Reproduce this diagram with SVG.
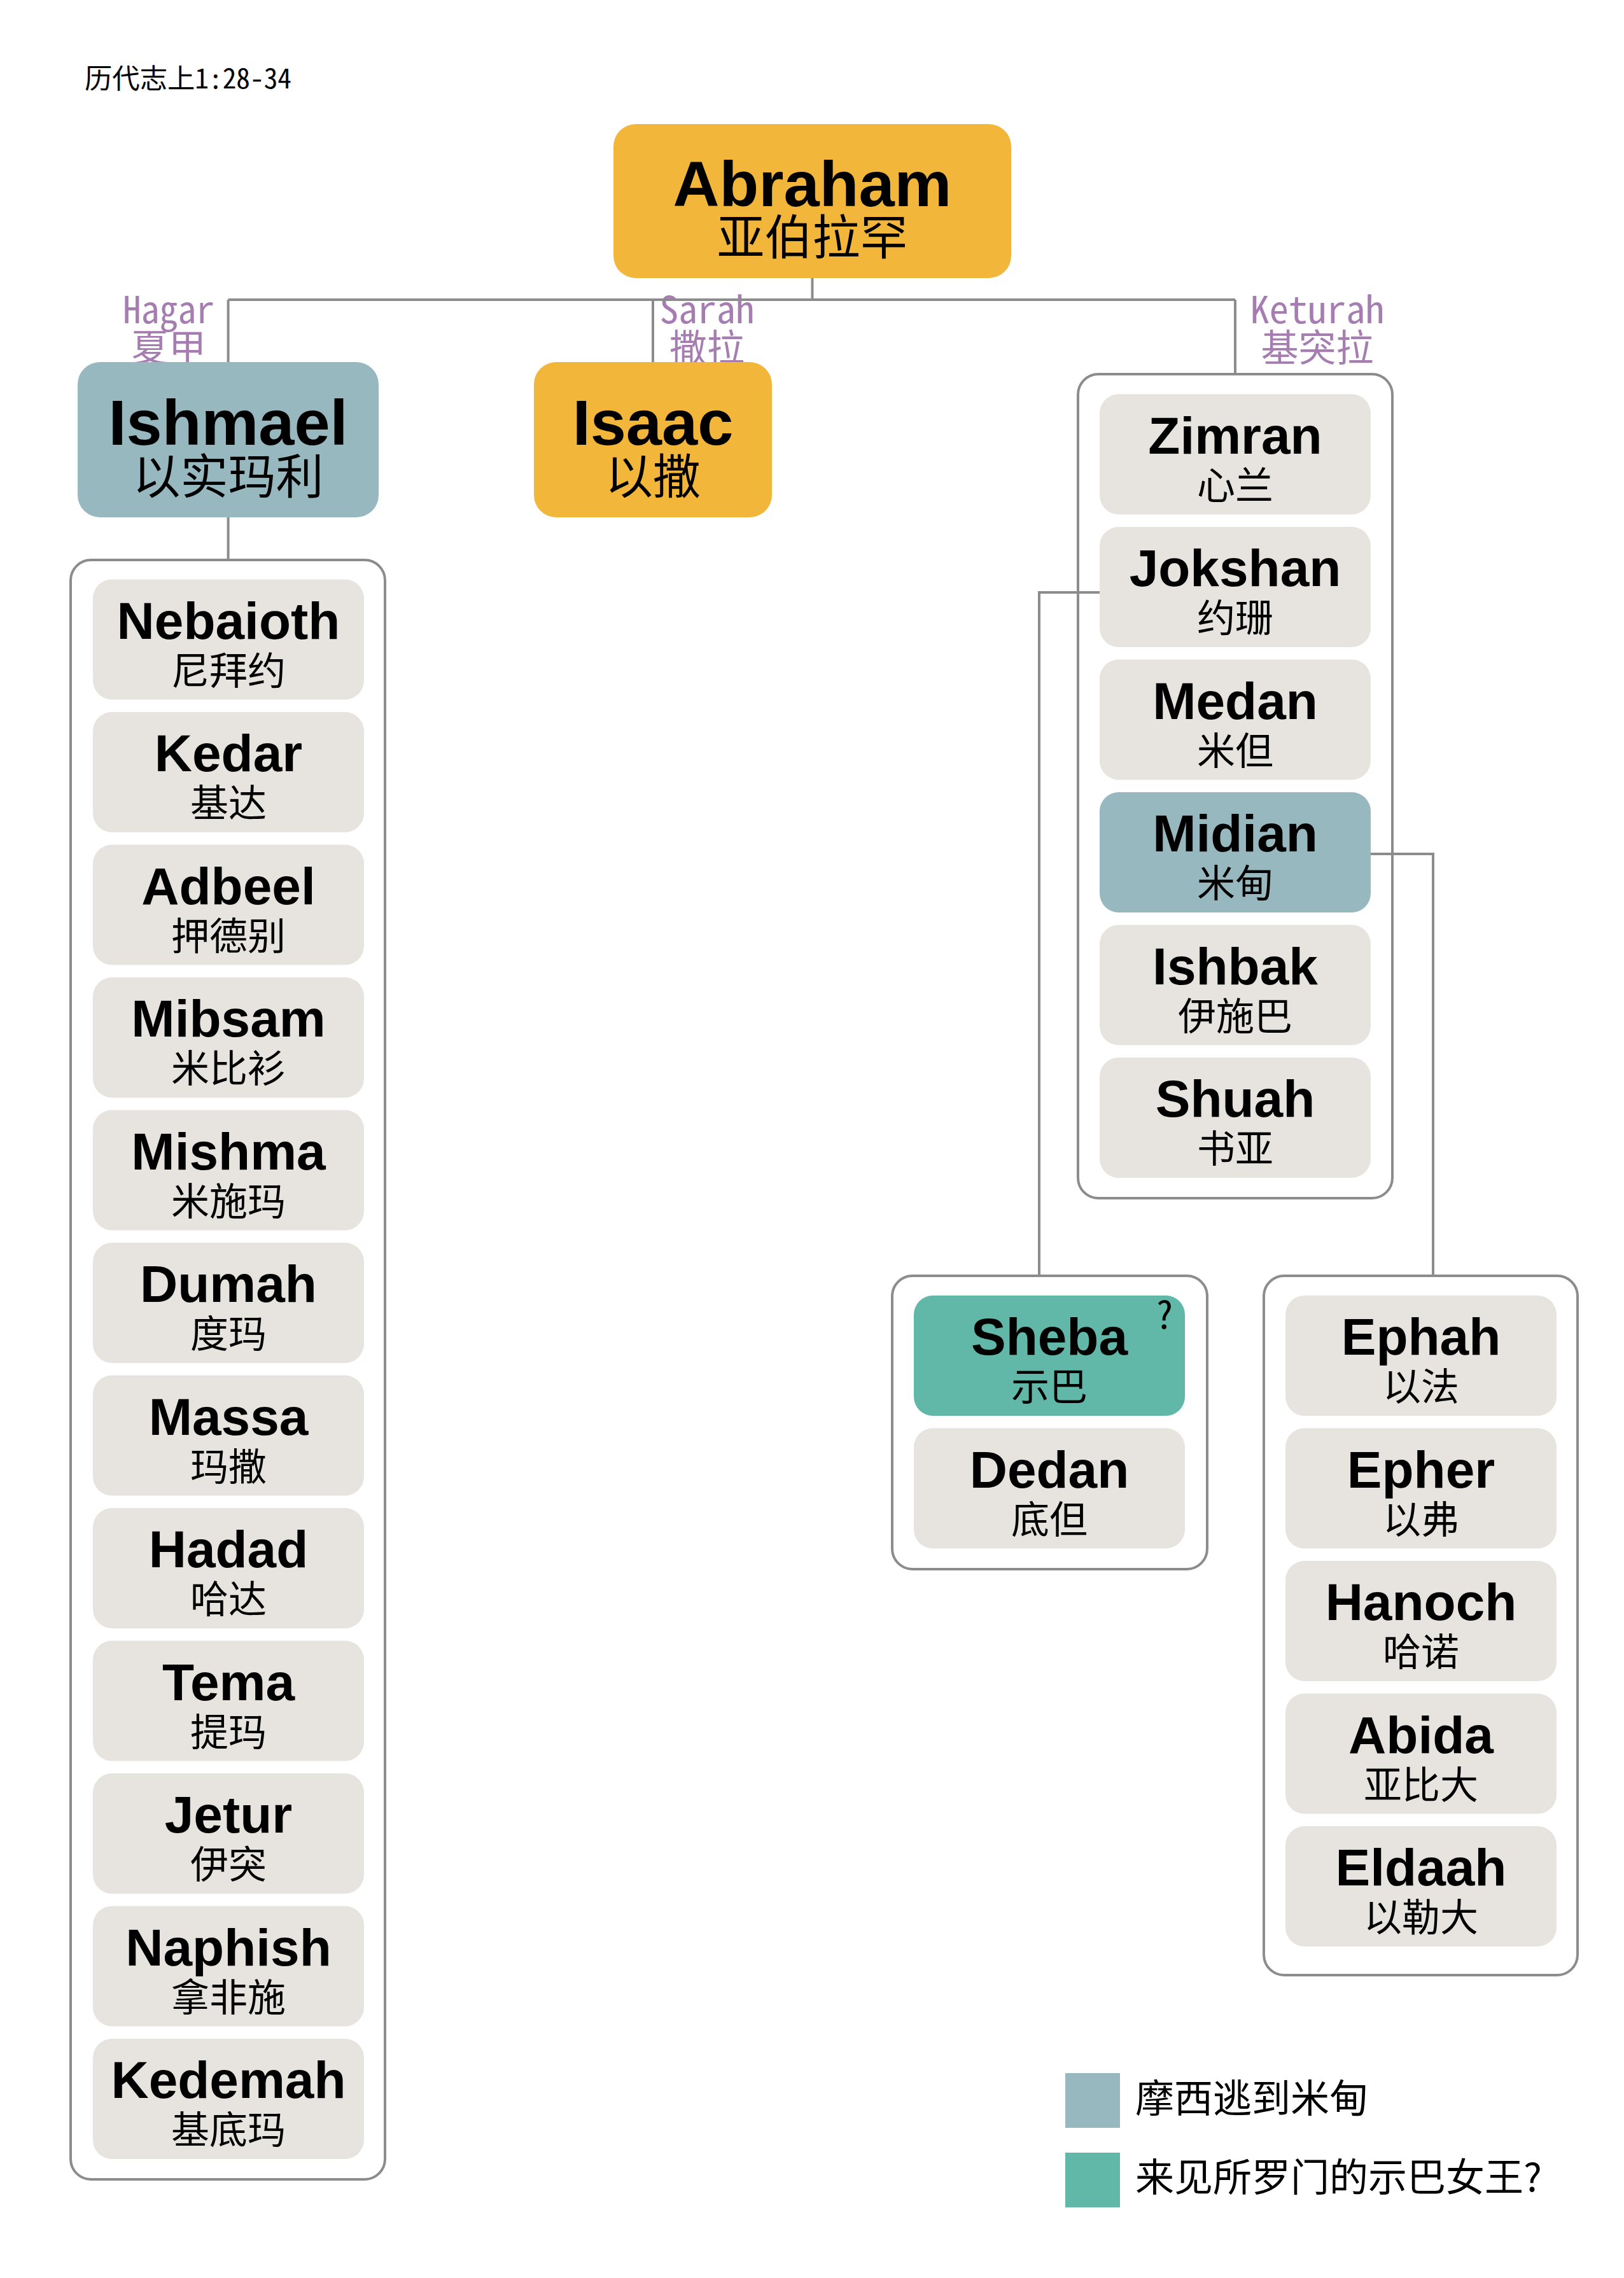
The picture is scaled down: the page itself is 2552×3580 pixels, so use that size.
<svg xmlns="http://www.w3.org/2000/svg" width="2552" height="3580" viewBox="0 0 2552 3580">
<style>
.bg{fill:#ffffff}
.grp{fill:#ffffff;stroke:#8c8c8c;stroke-width:4}
.kid{fill:#e7e4df}
.blue{fill:#98b8c0}
.teal{fill:#61b8a9}
.gold{fill:#f2b73a}
.en{font-family:"Liberation Sans",Arial,sans-serif;font-weight:bold;font-size:82px;fill:#000;text-anchor:middle}
.zh{font-family:"Noto Sans CJK SC",sans-serif;font-size:60px;fill:#000;text-anchor:middle}
.ben{font-family:"Liberation Sans",Arial,sans-serif;font-weight:bold;font-size:101px;fill:#000;text-anchor:middle}
.bzh{font-family:"Noto Sans CJK SC",sans-serif;font-size:75px;fill:#000;text-anchor:middle}
.sp{font-family:"Noto Sans Mono CJK SC","Noto Sans CJK SC",monospace;font-size:59px;fill:#a67db0;text-anchor:middle}
.mono{font-family:"Noto Sans Mono CJK SC","Noto Sans CJK SC",monospace;fill:#000}
.leg{font-family:"Noto Sans CJK SC",sans-serif;font-size:61px;fill:#000}
.ln{fill:none;stroke:#8c8c8c;stroke-width:4}
</style>
<rect class="bg" x="0" y="0" width="2552" height="3580"/>
<text id="title" class="mono" x="133" y="139" font-size="43" textLength="325" lengthAdjust="spacingAndGlyphs">历代志上1:28-34</text>

<g id="spouse-labels">
<text class="sp" x="265" y="508" textLength="144" lengthAdjust="spacingAndGlyphs">Hagar</text>
<text class="sp" x="265" y="568">夏甲</text>
<text class="sp" x="1111" y="508" textLength="149" lengthAdjust="spacingAndGlyphs">Sarah</text>
<text class="sp" x="1111" y="568">撒拉</text>
<text class="sp" x="2070" y="508" textLength="211" lengthAdjust="spacingAndGlyphs">Keturah</text>
<text class="sp" x="2070" y="568">基突拉</text>
</g>

<g id="abraham">
<rect class="gold" x="964" y="195" width="625" height="242" rx="35"/>
<text class="ben" x="1276.5" y="324">Abraham</text>
<text class="bzh" x="1276.5" y="400" font-size="76">亚伯拉罕</text>
</g>
<g id="ishmael">
<rect class="blue" x="122" y="569" width="473" height="244" rx="35"/>
<text class="ben" x="358.6" y="699" font-size="100">Ishmael</text>
<text class="bzh" x="358.6" y="776">以实玛利</text>
</g>
<g id="isaac">
<rect class="gold" x="839" y="569" width="374" height="244" rx="35"/>
<text class="ben" x="1026" y="699" font-size="100">Isaac</text>
<text class="bzh" x="1026" y="776">以撒</text>
</g>

<g id="ishmael-sons">
<rect class="grp" x="111" y="880" width="494" height="2545" rx="32"/>
<g id="nebaioth" transform="translate(146,910.5)"><rect class="kid" width="426" height="189" rx="30"/><text class="en" x="213" y="93">Nebaioth</text><text class="zh" x="213" y="165">尼拜约</text></g>
<g id="kedar" transform="translate(146,1119)"><rect class="kid" width="426" height="189" rx="30"/><text class="en" x="213" y="93">Kedar</text><text class="zh" x="213" y="165">基达</text></g>
<g id="adbeel" transform="translate(146,1327.5)"><rect class="kid" width="426" height="189" rx="30"/><text class="en" x="213" y="93">Adbeel</text><text class="zh" x="213" y="165">押德别</text></g>
<g id="mibsam" transform="translate(146,1536)"><rect class="kid" width="426" height="189" rx="30"/><text class="en" x="213" y="93">Mibsam</text><text class="zh" x="213" y="165">米比衫</text></g>
<g id="mishma" transform="translate(146,1744.5)"><rect class="kid" width="426" height="189" rx="30"/><text class="en" x="213" y="93">Mishma</text><text class="zh" x="213" y="165">米施玛</text></g>
<g id="dumah" transform="translate(146,1953)"><rect class="kid" width="426" height="189" rx="30"/><text class="en" x="213" y="93">Dumah</text><text class="zh" x="213" y="165">度玛</text></g>
<g id="massa" transform="translate(146,2161.5)"><rect class="kid" width="426" height="189" rx="30"/><text class="en" x="213" y="93">Massa</text><text class="zh" x="213" y="165">玛撒</text></g>
<g id="hadad" transform="translate(146,2370)"><rect class="kid" width="426" height="189" rx="30"/><text class="en" x="213" y="93">Hadad</text><text class="zh" x="213" y="165">哈达</text></g>
<g id="tema" transform="translate(146,2578.5)"><rect class="kid" width="426" height="189" rx="30"/><text class="en" x="213" y="93">Tema</text><text class="zh" x="213" y="165">提玛</text></g>
<g id="jetur" transform="translate(146,2787)"><rect class="kid" width="426" height="189" rx="30"/><text class="en" x="213" y="93">Jetur</text><text class="zh" x="213" y="165">伊突</text></g>
<g id="naphish" transform="translate(146,2995.5)"><rect class="kid" width="426" height="189" rx="30"/><text class="en" x="213" y="93">Naphish</text><text class="zh" x="213" y="165">拿非施</text></g>
<g id="kedemah" transform="translate(146,3204)"><rect class="kid" width="426" height="189" rx="30"/><text class="en" x="213" y="93">Kedemah</text><text class="zh" x="213" y="165">基底玛</text></g>
</g>

<g id="keturah-sons">
<rect class="grp" x="1694" y="588" width="494" height="1295" rx="32"/>
<g id="zimran" transform="translate(1728,619.5)"><rect class="kid" width="426" height="189" rx="30"/><text class="en" x="213" y="93">Zimran</text><text class="zh" x="213" y="165">心兰</text></g>
<g id="jokshan" transform="translate(1728,828)"><rect class="kid" width="426" height="189" rx="30"/><text class="en" x="213" y="93">Jokshan</text><text class="zh" x="213" y="165">约珊</text></g>
<g id="medan" transform="translate(1728,1036.5)"><rect class="kid" width="426" height="189" rx="30"/><text class="en" x="213" y="93">Medan</text><text class="zh" x="213" y="165">米但</text></g>
<g id="midian" transform="translate(1728,1245)"><rect class="blue" width="426" height="189" rx="30"/><text class="en" x="213" y="93">Midian</text><text class="zh" x="213" y="165">米甸</text></g>
<g id="ishbak" transform="translate(1728,1453.5)"><rect class="kid" width="426" height="189" rx="30"/><text class="en" x="213" y="93">Ishbak</text><text class="zh" x="213" y="165">伊施巴</text></g>
<g id="shuah" transform="translate(1728,1662)"><rect class="kid" width="426" height="189" rx="30"/><text class="en" x="213" y="93">Shuah</text><text class="zh" x="213" y="165">书亚</text></g>
</g>

<g id="jokshan-sons">
<rect class="grp" x="1402" y="2005" width="495" height="461" rx="32"/>
<g id="sheba" transform="translate(1436,2036)"><rect class="teal" width="426" height="189" rx="30"/><text class="en" x="213" y="93">Sheba</text><text class="zh" x="213" y="165">示巴</text><text class="mono" x="394" y="52" font-size="59" text-anchor="middle">?</text></g>
<g id="dedan" transform="translate(1436,2244.5)"><rect class="kid" width="426" height="189" rx="30"/><text class="en" x="213" y="93">Dedan</text><text class="zh" x="213" y="165">底但</text></g>
</g>

<g id="midian-sons">
<rect class="grp" x="1986" y="2005" width="493" height="1099" rx="32"/>
<g id="ephah" transform="translate(2020,2036)"><rect class="kid" width="426" height="189" rx="30"/><text class="en" x="213" y="93">Ephah</text><text class="zh" x="213" y="165">以法</text></g>
<g id="epher" transform="translate(2020,2244.5)"><rect class="kid" width="426" height="189" rx="30"/><text class="en" x="213" y="93">Epher</text><text class="zh" x="213" y="165">以弗</text></g>
<g id="hanoch" transform="translate(2020,2453)"><rect class="kid" width="426" height="189" rx="30"/><text class="en" x="213" y="93">Hanoch</text><text class="zh" x="213" y="165">哈诺</text></g>
<g id="abida" transform="translate(2020,2661.5)"><rect class="kid" width="426" height="189" rx="30"/><text class="en" x="213" y="93">Abida</text><text class="zh" x="213" y="165">亚比大</text></g>
<g id="eldaah" transform="translate(2020,2870)"><rect class="kid" width="426" height="189" rx="30"/><text class="en" x="213" y="93">Eldaah</text><text class="zh" x="213" y="165">以勒大</text></g>
</g>

<g id="connectors">
<path class="ln" d="M1276.5,437 V471 M358.6,471 H1941 M358.6,471 V569 M1026,471 V569 M1941,471 V588 M358.6,813 V880 M1728,931 H1633 V2005 M2154,1342 H2252 V2005"/>
</g>

<g id="legend">
<rect class="blue" x="1674" y="3258" width="86" height="86"/>
<text class="leg" x="1784" y="3320">摩西逃到米甸</text>
<rect class="teal" x="1674" y="3383" width="86" height="86"/>
<text class="leg" x="1784" y="3444">来见所罗门的示巴女王?</text>
</g>
</svg>
